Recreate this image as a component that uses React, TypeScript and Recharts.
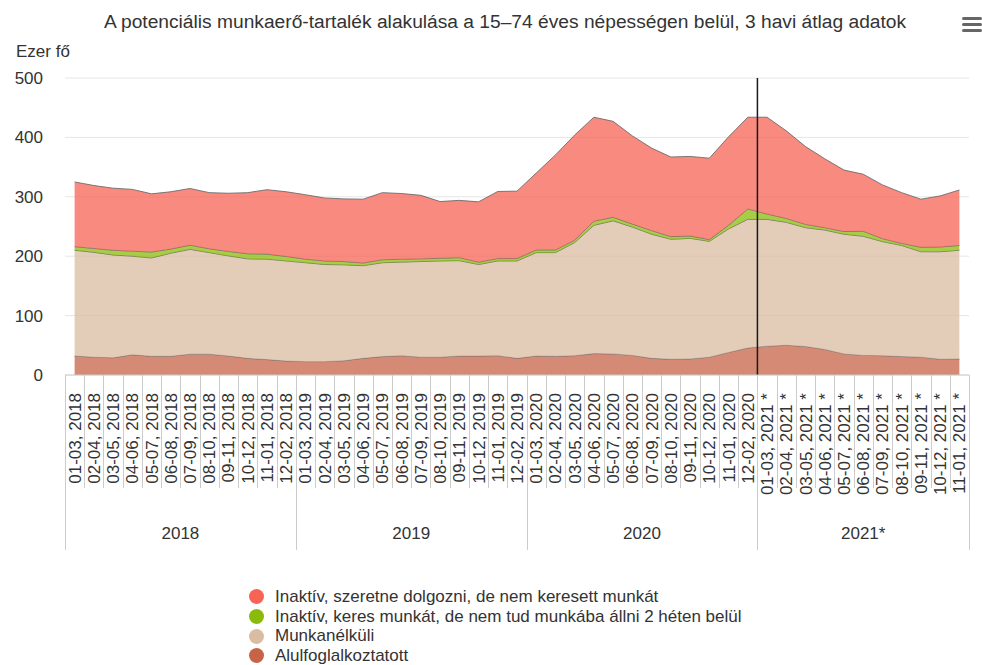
import React from 'react'
import { AreaChart, Area, XAxis, YAxis, CartesianGrid, ReferenceLine } from 'recharts'

// 3 havi átlag, ezer fő
const periods = [
  '01-03, 2018', '02-04, 2018', '03-05, 2018', '04-06, 2018', '05-07, 2018', '06-08, 2018',
  '07-09, 2018', '08-10, 2018', '09-11, 2018', '10-12, 2018', '11-01, 2018', '12-02, 2018',
  '01-03, 2019', '02-04, 2019', '03-05, 2019', '04-06, 2019', '05-07, 2019', '06-08, 2019',
  '07-09, 2019', '08-10, 2019', '09-11, 2019', '10-12, 2019', '11-01, 2019', '12-02, 2019',
  '01-03, 2020', '02-04, 2020', '03-05, 2020', '04-06, 2020', '05-07, 2020', '06-08, 2020',
  '07-09, 2020', '08-10, 2020', '09-11, 2020', '10-12, 2020', '11-01, 2020', '12-02, 2020',
  '01-03, 2021 *', '02-04, 2021 *', '03-05, 2021 *', '04-06, 2021 *', '05-07, 2021 *', '06-08, 2021 *',
  '07-09, 2021 *', '08-10, 2021 *', '09-11, 2021 *', '10-12, 2021 *', '11-01, 2021 *',
]

const alulfoglalkoztatott = [
  32, 30, 29, 34, 31.5, 31.5, 35, 35, 32, 28, 26, 23.5,
  22.5, 22.5, 24, 28, 31, 32.5, 30, 30, 32, 32, 32.5, 28,
  32, 31.5, 32.5, 36, 35.5, 33, 28, 26.5, 27, 30, 38, 45.5,
  48.5, 50, 48, 43, 35.5, 33, 32.5, 31, 30, 26.5, 27,
]
const munkanelkuli = [
  178, 176.5, 173, 166, 165.5, 173.5, 176.5, 171, 168.5, 167.5, 169, 168.5,
  166.5, 163.5, 161.5, 156, 158, 157.5, 161, 162, 160.5, 154, 159.5, 164,
  174, 174.5, 190.5, 216, 224, 216, 209, 202, 203, 195, 208, 216.5,
  213.5, 207, 200, 201, 201.5, 200.5, 192, 187, 177.5, 181, 183,
]
const inaktivKeres = [
  6, 6.5, 8, 8.5, 10, 7, 7, 6.5, 7.5, 8.5, 8.5, 7.5,
  6, 6, 5.5, 4.5, 5, 5, 4.5, 4.5, 5, 4, 4, 4,
  4.5, 4.5, 4, 7, 6, 5, 6, 4.5, 4, 3, 6, 17.5,
  9, 6.5, 5.5, 4, 4.5, 8.5, 5, 3.5, 7.5, 8, 8,
]
const inaktivSzeretne = [
  109, 106, 104.5, 104, 98, 96.5, 95.5, 94.5, 98, 103, 108.5, 109,
  108.5, 106, 105.5, 107.5, 113, 110.5, 107, 95.5, 96.5, 101.5, 113, 113.5,
  129.5, 160, 177, 175, 161.5, 148.5, 139, 134, 134, 137, 149, 154.5,
  163, 147.5, 131, 116, 103.5, 96, 90.5, 85.5, 81, 86, 93.5,
]

const yearLabels = ['2018', '2019', '2020', '2021*']
const yearLengths = [12, 12, 12, 11]
const yTicks = [0, 100, 200, 300, 400, 500]

const series = [
  { key: 'szeretne', name: 'Inaktív, szeretne dolgozni, de nem keresett munkát', color: '#F76354' },
  { key: 'keres', name: 'Inaktív, keres munkát, de nem tud munkába állni 2 héten belül', color: '#8ABB0A' },
  { key: 'munkanelkuli', name: 'Munkanélküli', color: '#DABCA2' },
  { key: 'alul', name: 'Alulfoglalkoztatott', color: '#C76347' },
]

const data = periods.map((period, i) => ({
  idx: i,
  period,
  alul: alulfoglalkoztatott[i],
  munkanelkuli: munkanelkuli[i],
  keres: inaktivKeres[i],
  szeretne: inaktivSzeretne[i],
}))

// ticks: integer = category label, x.5 = separator line
const periodTicks = [
  ...periods.map((_, i) => i),
  ...Array.from({ length: periods.length + 1 }, (_, i) => i - 0.5),
]
const yearBounds: number[] = [-0.5]
const yearCenters: number[] = []
yearLengths.forEach(len => {
  const start = yearBounds[yearBounds.length - 1]
  yearCenters.push(start + len / 2)
  yearBounds.push(start + len)
})
const yearTicks = [...yearCenters, ...yearBounds]
const covidMarker = yearBounds[3]

const FONT = '"Liberation Sans", Arial, Helvetica, sans-serif'
const LABEL = '#333333'
const SEP = '#cccccc'
const FS = 17

// eslint-disable-next-line @typescript-eslint/no-explicit-any
function PeriodTick({ x, y, payload }: any) {
  const v = payload.value
  if (Number.isInteger(v)) {
    return (
      <text transform={`translate(${x + 6},${y + 18}) rotate(-90)`} textAnchor="end"
        fontSize={FS} fill={LABEL}>
        {periods[v]}
      </text>
    )
  }
  const px = Math.round(x) + 0.5
  return <line x1={px} x2={px} y1={y} y2={y + 113} stroke={SEP} />
}

// eslint-disable-next-line @typescript-eslint/no-explicit-any
function YearTick({ x, y, payload }: any) {
  const gi = yearCenters.indexOf(payload.value)
  if (gi >= 0) {
    return <text x={x} y={y + 51} textAnchor="middle" fontSize={FS} fill={LABEL}>{yearLabels[gi]}</text>
  }
  const px = Math.round(x) + 0.5
  return <line x1={px} x2={px} y1={y} y2={y + 62} stroke={SEP} />
}

// eslint-disable-next-line @typescript-eslint/no-explicit-any
function ValueTick({ x, y, payload }: any) {
  return <text x={x - 22} y={y + 6} textAnchor="end" fontSize={FS} fill={LABEL}>{payload.value}</text>
}

export default function App() {
  return (
    <div style={{ position: 'absolute', left: 0, top: 0, width: 982, height: 665, background: '#fff',
      fontFamily: FONT, color: LABEL }}>
      <div style={{ position: 'absolute', left: 0, top: 12, width: 1010, textAlign: 'center',
        fontSize: 19.2, lineHeight: '19px', whiteSpace: 'nowrap' }}>
        A potenciális munkaerő-tartalék alakulása a 15–74 éves népességen belül, 3 havi átlag adatok
      </div>
      <div style={{ position: 'absolute', left: 962, top: 17 }}>
        {[0, 1, 2].map(i => (
          <div key={i} style={{ width: 20, height: 3, background: '#666', borderRadius: 1.5, marginBottom: 3 }} />
        ))}
      </div>
      <div style={{ position: 'absolute', left: 16, top: 43, fontSize: FS, lineHeight: '17px' }}>Ezer fő</div>

      <AreaChart width={982} height={665} data={data}
        margin={{ top: 78, right: 13, left: 0, bottom: 115 }}>
        <CartesianGrid vertical={false} stroke="#e6e6e6" />
        <XAxis xAxisId={0} dataKey="idx" type="number" domain={[-0.5, periods.length - 0.5]}
          ticks={periodTicks} interval={0} tick={<PeriodTick />} tickLine={false}
          tickSize={0} tickMargin={0} height={113} axisLine={{ stroke: SEP }} />
        <XAxis xAxisId={1} dataKey="idx" type="number" domain={[-0.5, periods.length - 0.5]}
          ticks={yearTicks} interval={0} tick={<YearTick />} tickLine={false}
          tickSize={0} tickMargin={0} height={62} axisLine={false} />
        <YAxis domain={[0, 500]} ticks={yTicks} width={65} axisLine={false} tickLine={false}
          tickSize={0} tickMargin={0} tick={<ValueTick />} />

        {[...series].reverse().map(s => (
          <Area key={s.key} xAxisId={0} type="linear" dataKey={s.key} name={s.name} stackId="a"
            stroke="#666" strokeOpacity={0.85} strokeWidth={1}
            fill={s.color} fillOpacity={0.75}
            dot={false} activeDot={false} isAnimationActive={false} />
        ))}

        <ReferenceLine xAxisId={0} x={covidMarker} stroke="#1a1a1a" strokeWidth={1.5} />
      </AreaChart>

      <div style={{ position: 'absolute', left: 249, top: 587 }}>
        {series.map(s => (
          <div key={s.key} style={{ display: 'flex', alignItems: 'center', height: 19.7 }}>
            <span style={{ width: 15, height: 15, borderRadius: '50%', background: s.color,
              display: 'inline-block', marginRight: 11 }} />
            <span style={{ fontSize: FS, lineHeight: '20px', whiteSpace: 'nowrap' }}>{s.name}</span>
          </div>
        ))}
      </div>
    </div>
  )
}
